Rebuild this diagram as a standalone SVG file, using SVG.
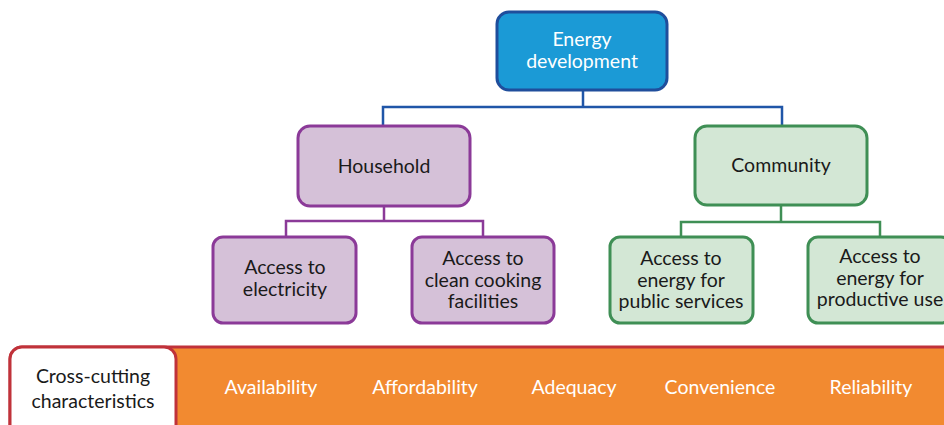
<svg xmlns="http://www.w3.org/2000/svg" width="944" height="425" viewBox="0 0 944 425">
<style>
text{font-family:Lato,"Liberation Sans",sans-serif;font-size:19.5px;text-anchor:middle;fill:#1a1a1a}
.w{fill:#ffffff}
.blue{fill:#1b9ad6;stroke:#1f4e9c;stroke-width:3}
.pur{fill:#d5c1d8;stroke:#8b3a98;stroke-width:3}
.grn{fill:#d3e7d5;stroke:#3f8f55;stroke-width:3}
.cb{fill:none;stroke:#2056a8;stroke-width:2.5}
.cp{fill:none;stroke:#8b3a98;stroke-width:2.5}
.cg{fill:none;stroke:#3f8f55;stroke-width:2.5}
</style>
<g id="connectors">
<path class="cb" d="M583 90V107M383 127V107H782V126"/>
<path class="cp" d="M384 206V221M286 237V221H483V237"/>
<path class="cg" d="M781 205V222M681 237V222H880V237"/>
</g>
<g id="energy">
<rect class="blue" x="497" y="12" width="170" height="78" rx="12"/>
<text class="w" x="582" y="46">Energy</text>
<text class="w" x="582" y="68">development</text>
</g>
<g id="household">
<rect class="pur" x="298" y="126" width="172" height="80" rx="12"/>
<text x="384" y="173">Household</text>
</g>
<g id="community">
<rect class="grn" x="695" y="126" width="172" height="79" rx="12"/>
<text x="781" y="172">Community</text>
</g>
<g id="electricity">
<rect class="pur" x="213" y="237" width="143" height="86" rx="10"/>
<text x="285" y="274">Access to</text>
<text x="285" y="296">electricity</text>
</g>
<g id="cooking">
<rect class="pur" x="412" y="237" width="142" height="86" rx="10"/>
<text x="483" y="265">Access to</text>
<text x="483" y="287">clean cooking</text>
<text x="483" y="308">facilities</text>
</g>
<g id="public">
<rect class="grn" x="610" y="237" width="143" height="86" rx="10"/>
<text x="681" y="265">Access to</text>
<text x="681" y="287">energy for</text>
<text x="681" y="308">public services</text>
</g>
<g id="productive">
<rect class="grn" x="808" y="237" width="143" height="86" rx="10"/>
<text x="880" y="263">Access to</text>
<text x="880" y="285">energy for</text>
<text x="880" y="306">productive use</text>
</g>
<g id="crosscutting">
<rect x="10" y="347" width="946" height="90" rx="12" fill="#f28a30" stroke="#c0323a" stroke-width="3"/>
<rect x="10" y="347" width="166" height="90" rx="12" fill="#ffffff" stroke="#c0323a" stroke-width="3"/>
<text x="93" y="383">Cross-cutting</text>
<text x="93" y="408">characteristics</text>
<text class="w" x="271" y="394">Availability</text>
<text class="w" x="425" y="394">Affordability</text>
<text class="w" x="574" y="394">Adequacy</text>
<text class="w" x="720" y="394">Convenience</text>
<text class="w" x="871" y="394">Reliability</text>
</g>
</svg>
